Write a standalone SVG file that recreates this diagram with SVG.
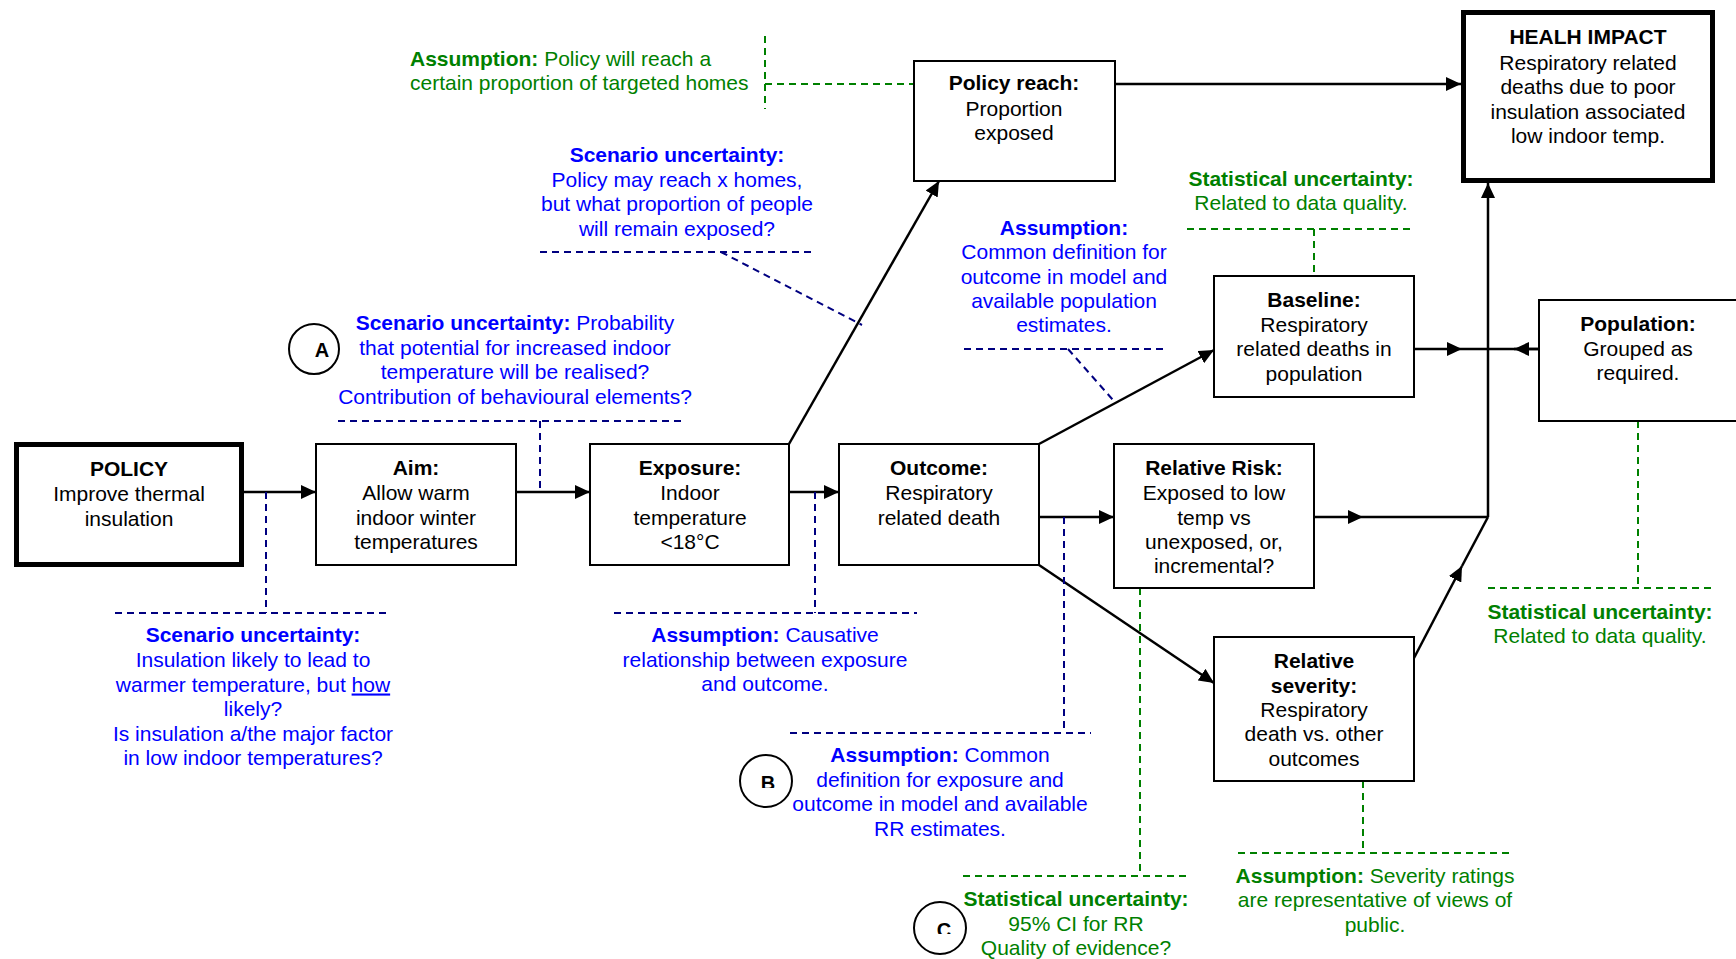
<svg xmlns="http://www.w3.org/2000/svg" width="1736" height="959" viewBox="0 0 1736 959">
  <style>
    .box { fill: #ffffff; stroke: #000000; stroke-width: 2; }
    .thick { fill: #ffffff; stroke: #000000; stroke-width: 5; }
    .t { font-family: "Liberation Sans", Arial, sans-serif; font-size: 21px; text-anchor: middle; fill: #000000; }
    .l { text-anchor: start; }
    .b { font-weight: bold; }
    .blue { fill: #0000ff; }
    .green { fill: #008000; }
    .conn { stroke: #000000; stroke-width: 2.5; fill: none; }
    .arr { marker-end: url(#arrow); }
    .dblue { stroke: #000080; stroke-width: 2; stroke-dasharray: 7 5; fill: none; }
    .dgreen { stroke: #008000; stroke-width: 2; stroke-dasharray: 7 5; fill: none; }
    .ring { fill: #ffffff; stroke: #000000; stroke-width: 2; }
    .tag { font-family: "Liberation Sans", Arial, sans-serif; font-size: 20px; font-weight: bold; text-anchor: middle; fill: #000000; }
  </style>
  <defs>
    <marker id="arrow" markerWidth="16" markerHeight="14" refX="15" refY="7" orient="auto" markerUnits="userSpaceOnUse">
      <path d="M0,0 L15,7 L0,14 z" fill="#000000"/>
    </marker>
    <clipPath id="clipB"><rect x="740" y="765" width="60" height="23"/></clipPath>
    <clipPath id="clipC"><rect x="915" y="912" width="60" height="22"/></clipPath>
  </defs>
  <rect width="1736" height="959" fill="#ffffff"/>

  <!-- connectors -->
  <g id="connectors">
    <path class="conn arr" d="M244,492 H316"/>
    <path class="conn arr" d="M516,492 H590"/>
    <path class="conn arr" d="M789,492 H839"/>
    <path class="conn arr" d="M1039,517 H1114"/>
    <path class="conn arr" d="M789,444 L939,181"/>
    <path class="conn arr" d="M1115,84 H1461"/>
    <path class="conn arr" d="M1039,444 L1214,350"/>
    <path class="conn arr" d="M1039,565 L1214,683"/>
    <path class="conn arr" d="M1414,349 H1462"/>
    <path class="conn" d="M1462,349 H1539"/>
    <path class="conn arr" d="M1539,349 H1514"/>
    <path class="conn arr" d="M1314,517 H1363"/>
    <path class="conn" d="M1363,517 H1488"/>
    <path class="conn arr" d="M1414,658 L1462,566"/>
    <path class="conn" d="M1462,566 L1488,517"/>
    <path class="conn arr" d="M1488,517 V183"/>
  </g>

  <!-- dashed annotation leaders -->
  <g id="leaders">
    <path class="dblue" d="M266,492 V613 M115,613 H390"/>
    <path class="dblue" d="M540,421 V492 M338,421 H684"/>
    <path class="dblue" d="M815,492 V613 M614,613 H917"/>
    <path class="dblue" d="M1064,517 V733 M790,733 H1091"/>
    <path class="dblue" d="M540,252 H815 M721,252 L862,325"/>
    <path class="dblue" d="M964,349 H1167 M1068,349 L1113,400"/>
    <path class="dgreen" d="M765,36 V109 M765,84 H914"/>
    <path class="dgreen" d="M1187,229 H1415 M1314,229 V276"/>
    <path class="dgreen" d="M1638,421 V588 M1488,588 H1714"/>
    <path class="dgreen" d="M1140,588 V876 M963,876 H1190"/>
    <path class="dgreen" d="M1363,781 V853 M1238,853 H1514"/>
  </g>

  <!-- model nodes -->
  <g id="policy">
    <rect class="thick" x="16.5" y="444.5" width="225" height="120"/>
    <text class="t b" x="129" y="475.5">POLICY</text>
    <text class="t" x="129" y="501">Improve thermal</text>
    <text class="t" x="129" y="525.5">insulation</text>
  </g>
  <g id="aim">
    <rect class="box" x="316" y="444" width="200" height="121"/>
    <text class="t b" x="416" y="474.5">Aim:</text>
    <text class="t" x="416" y="499.5">Allow warm</text>
    <text class="t" x="416" y="524.5">indoor winter</text>
    <text class="t" x="416" y="548.5">temperatures</text>
  </g>
  <g id="exposure">
    <rect class="box" x="590" y="444" width="199" height="121"/>
    <text class="t b" x="690" y="474.5">Exposure:</text>
    <text class="t" x="690" y="499.5">Indoor</text>
    <text class="t" x="690" y="524.5">temperature</text>
    <text class="t" x="690" y="548.5">&lt;18°C</text>
  </g>
  <g id="outcome">
    <rect class="box" x="839" y="444" width="200" height="121"/>
    <text class="t b" x="939" y="474.5">Outcome:</text>
    <text class="t" x="939" y="499.5">Respiratory</text>
    <text class="t" x="939" y="524.5">related death</text>
  </g>
  <g id="relative-risk">
    <rect class="box" x="1114" y="444" width="200" height="144"/>
    <text class="t b" x="1214" y="474.5">Relative Risk:</text>
    <text class="t" x="1214" y="499.5">Exposed to low</text>
    <text class="t" x="1214" y="524.5">temp vs</text>
    <text class="t" x="1214" y="548.5">unexposed, or,</text>
    <text class="t" x="1214" y="572.5">incremental?</text>
  </g>
  <g id="relative-severity">
    <rect class="box" x="1214" y="637" width="200" height="144"/>
    <text class="t b" x="1314" y="667.5">Relative</text>
    <text class="t b" x="1314" y="692.5">severity:</text>
    <text class="t" x="1314" y="716.5">Respiratory</text>
    <text class="t" x="1314" y="740.5">death vs. other</text>
    <text class="t" x="1314" y="765.5">outcomes</text>
  </g>
  <g id="baseline">
    <rect class="box" x="1214" y="276" width="200" height="121"/>
    <text class="t b" x="1314" y="306.5">Baseline:</text>
    <text class="t" x="1314" y="331.5">Respiratory</text>
    <text class="t" x="1314" y="355.5">related deaths in</text>
    <text class="t" x="1314" y="380.5">population</text>
  </g>
  <g id="population">
    <rect class="box" x="1539" y="300" width="250" height="121"/>
    <text class="t b" x="1638" y="330.5">Population:</text>
    <text class="t" x="1638" y="355.5">Grouped as</text>
    <text class="t" x="1638" y="379.5">required.</text>
  </g>
  <g id="policy-reach">
    <rect class="box" x="914" y="61" width="201" height="120"/>
    <text class="t b" x="1014" y="89.5">Policy reach:</text>
    <text class="t" x="1014" y="115.5">Proportion</text>
    <text class="t" x="1014" y="139.5">exposed</text>
  </g>
  <g id="health-impact">
    <rect class="thick" x="1463.5" y="12.5" width="249" height="168"/>
    <text class="t b" x="1588" y="43.5">HEALH IMPACT</text>
    <text class="t" x="1588" y="69.5">Respiratory related</text>
    <text class="t" x="1588" y="93.5">deaths due to poor</text>
    <text class="t" x="1588" y="118.5">insulation associated</text>
    <text class="t" x="1588" y="142.5">low indoor temp.</text>
  </g>

  <!-- annotations -->
  <g id="note-reach-assumption">
    <text class="t l green" x="410" y="65.5"><tspan class="b">Assumption:</tspan> Policy will reach a</text>
    <text class="t l green" x="410" y="89.5">certain proportion of targeted homes</text>
  </g>
  <g id="note-reach-scenario">
    <text class="t b blue" x="677" y="161.5">Scenario uncertainty:</text>
    <text class="t blue" x="677" y="186.5">Policy may reach x homes,</text>
    <text class="t blue" x="677" y="210.5">but what proportion of people</text>
    <text class="t blue" x="677" y="235.5">will remain exposed?</text>
  </g>
  <g id="note-a">
    <circle class="ring" cx="314" cy="349" r="25"/>
    <text class="tag" x="322" y="357">A</text>
    <text class="t blue" x="515" y="329.5"><tspan class="b">Scenario uncertainty:</tspan> Probability</text>
    <text class="t blue" x="515" y="354.5">that potential for increased indoor</text>
    <text class="t blue" x="515" y="378.5">temperature will be realised?</text>
    <text class="t blue" x="515" y="403.5">Contribution of behavioural elements?</text>
  </g>
  <g id="note-baseline-assumption">
    <text class="t b blue" x="1064" y="234.5">Assumption:</text>
    <text class="t blue" x="1064" y="258.5">Common definition for</text>
    <text class="t blue" x="1064" y="283.5">outcome in model and</text>
    <text class="t blue" x="1064" y="307.5">available population</text>
    <text class="t blue" x="1064" y="331.5">estimates.</text>
  </g>
  <g id="note-baseline-statistical">
    <text class="t b green" x="1301" y="185.5">Statistical uncertainty:</text>
    <text class="t green" x="1301" y="209.5">Related to data quality.</text>
  </g>
  <g id="note-policy-scenario">
    <text class="t b blue" x="253" y="641.5">Scenario uncertainty:</text>
    <text class="t blue" x="253" y="666.5">Insulation likely to lead to</text>
    <text class="t blue" x="253" y="691.5">warmer temperature, but <tspan text-decoration="underline">how</tspan></text>
    <text class="t blue" x="253" y="715.5">likely?</text>
    <text class="t blue" x="253" y="740.5">Is insulation a/the major factor</text>
    <text class="t blue" x="253" y="764.5">in low indoor temperatures?</text>
  </g>
  <g id="note-causative">
    <text class="t blue" x="765" y="641.5"><tspan class="b">Assumption:</tspan> Causative</text>
    <text class="t blue" x="765" y="666.5">relationship between exposure</text>
    <text class="t blue" x="765" y="690.5">and outcome.</text>
  </g>
  <g id="note-b">
    <circle class="ring" cx="766" cy="781" r="26"/>
    <text class="tag" x="768" y="790" clip-path="url(#clipB)">B</text>
    <text class="t blue" x="940" y="761.5"><tspan class="b">Assumption:</tspan> Common</text>
    <text class="t blue" x="940" y="786.5">definition for exposure and</text>
    <text class="t blue" x="940" y="810.5">outcome in model and available</text>
    <text class="t blue" x="940" y="835.5">RR estimates.</text>
  </g>
  <g id="note-c">
    <circle class="ring" cx="940" cy="928" r="26"/>
    <text class="tag" x="944" y="937" clip-path="url(#clipC)">C</text>
    <text class="t b green" x="1076" y="905.5">Statistical uncertainty:</text>
    <text class="t green" x="1076" y="930.5">95% CI for RR</text>
    <text class="t green" x="1076" y="954.5">Quality of evidence?</text>
  </g>
  <g id="note-severity">
    <text class="t green" x="1375" y="882.5"><tspan class="b">Assumption:</tspan> Severity ratings</text>
    <text class="t green" x="1375" y="906.5">are representative of views of</text>
    <text class="t green" x="1375" y="931.5">public.</text>
  </g>
  <g id="note-population-statistical">
    <text class="t b green" x="1600" y="618.5">Statistical uncertainty:</text>
    <text class="t green" x="1600" y="642.5">Related to data quality.</text>
  </g>
</svg>
